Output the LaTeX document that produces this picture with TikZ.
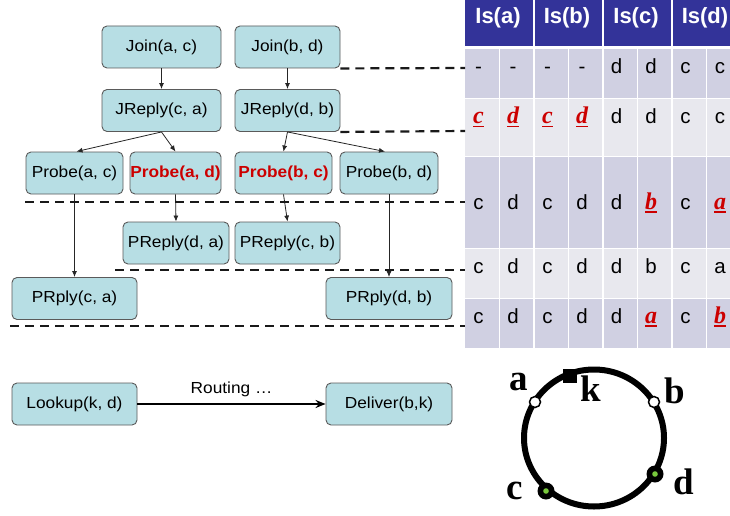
\documentclass[tikz,border=0pt]{standalone}
\usepackage{fontspec}
\setmainfont{Liberation Sans}
\newfontfamily\nodef[FakeStretch=1.08]{Liberation Sans}
\newfontfamily\serf{Liberation Serif}
\usetikzlibrary{arrows.meta}
\definecolor{hdr}{RGB}{51,51,153}
\definecolor{rowd}{RGB}{208,208,226}
\definecolor{rowl}{RGB}{232,232,238}
\definecolor{boxfill}{RGB}{183,222,228}
\definecolor{boxline}{RGB}{90,90,90}
\definecolor{myred}{RGB}{204,0,0}
\definecolor{ringgreen}{RGB}{120,200,60}
\newcommand\redu[1]{{\color{myred}\fontsize{24}{26}\serf\bfseries\itshape\setbox0\hbox{#1}\rlap{\raisebox{-3.5pt}{\rule{\wd0}{1.6pt}}}\box0}}
\newcommand\cellf{\fontsize{20.5}{23}\selectfont}
\tikzset{
  box/.style={draw=boxline, fill=boxfill, rounded corners=5pt, line width=0.9pt,
    minimum height=42pt, inner sep=0pt, font=\nodef\fontsize{16}{19}\selectfont},
  redtxt/.style={text=myred, font=\nodef\fontsize{16}{19}\selectfont\bfseries},
  arr/.style={-{Latex[length=6pt,width=5pt]}, line width=0.8pt, draw=black!85},
  dl/.style={dashed, dash pattern=on 9pt off 6pt, line width=2.2pt, draw=black!90},
  hd/.style={text=white, font=\fontsize{22}{25}\selectfont\bfseries, anchor=center},
  cell/.style={anchor=base, font=\cellf, inner sep=0pt},
  ringlbl/.style={font=\serf\bfseries\fontsize{37}{39}\selectfont, inner sep=0pt}
}
\begin{document}
\begin{tikzpicture}[x=1pt,y=-1pt]
\useasboundingbox (0,0) rectangle (730,516);
\fill[white] (0,0) rectangle (730,516);
% ---------- table ----------
\fill[hdr] (465,0) rectangle (730,46);
\fill[rowd] (465,49) rectangle (730,98);
\fill[rowl] (465,99) rectangle (730,156);
\fill[rowd] (465,157) rectangle (730,248);
\fill[rowl] (465,249) rectangle (730,298);
\fill[rowd] (465,299) rectangle (730,348);
\foreach \x in {534,603,672} \draw[white, line width=1.5pt] (\x,0) -- (\x,46);
\foreach \x in {499.5,534,568.5,603,637.5,672,706.5} \draw[white, line width=1.5pt] (\x,49) -- (\x,348);
\node[hd] (h1) at (498,18) {Is(a)};
\node[hd] (h2) at (567,18) {Is(b)};
\node[hd] (h3) at (636,18) {Is(c)};
\node[hd] (h4) at (705,18) {Is(d)};
% row 1
\foreach \t [count=\i] in {-,-,-,-,d,d,c,c}
  \node[cell] (ra\i) at (465+34.5*\i-21,74) {\t};
% row 2
\foreach \t [count=\i] in {\redu{c},\redu{d},\redu{c},\redu{d},d,d,c,c}
  \node[cell] (rb\i) at (465+34.5*\i-21,124) {\t};
% row 3
\foreach \t [count=\i] in {c,d,c,d,d,\redu{b},c,\redu{a}}
  \node[cell] (rc\i) at (465+34.5*\i-21,209) {\t};
% row 4
\foreach \t [count=\i] in {c,d,c,d,d,b,c,a}
  \node[cell] (rd\i) at (465+34.5*\i-21,273) {\t};
% row 5
\foreach \t [count=\i] in {c,d,c,d,d,\redu{a},c,\redu{b}}
  \node[cell] (re\i) at (465+34.5*\i-21,323) {\t};
% ---------- message nodes ----------
\node[box, minimum width=119pt] (jac) at (161.5,47) {Join(a, c)};
\node[box, minimum width=105pt] (jbd) at (287.5,47) {Join(b, d)};
\node[box, minimum width=119pt] (jrca) at (161.5,110.5) {JReply(c, a)};
\node[box, minimum width=105pt] (jrdb) at (287.5,110.5) {JReply(d, b)};
\node[box, minimum width=97pt] (pac) at (74.5,173) {Probe(a, c)};
\node[box, redtxt, minimum width=91pt] (pad) at (175.5,173) {Probe(a, d)};
\node[box, redtxt, minimum width=97pt] (pbc) at (283.5,173) {Probe(b, c)};
\node[box, minimum width=98pt] (pbd) at (389,173) {Probe(b, d)};
\node[box, minimum width=106pt] (prda) at (176,243) {PReply(d, a)};
\node[box, minimum width=105pt] (prcb) at (287.5,243) {PReply(c, b)};
\node[box, minimum width=125pt] (prca) at (74.5,298.5) {PRply(c, a)};
\node[box, minimum width=126pt] (prdb) at (389,298.5) {PRply(d, b)};
\node[box, minimum width=125pt] (look) at (74.5,404) {Lookup(k, d)};
\node[box, minimum width=126pt] (deliv) at (389,404) {Deliver(b,k)};
% arrows
\draw[arr] (jac) -- (jrca);
\draw[arr] (jbd) -- (jrdb);
\draw[arr] (jrca.south) -- ([xshift=2pt]pac.north);
\draw[arr] (jrca.south) -- (pad.north);
\draw[arr] (jrdb.south) -- (pbc.north);
\draw[arr] (jrdb.south) -- ([xshift=-4pt]pbd.north);
\draw[arr] (pac.south) -- (prca.north);
\draw[arr] (pad.south) -- (prda.north);
\draw[arr] (pbc.south) -- (prcb.north);
\draw[arr] (pbd.south) -- (prdb.north);
\draw[-{Stealth[length=10pt,width=8pt]}, line width=2.2pt] (look) -- node[above=3pt, font=\nodef\fontsize{16}{19}\selectfont] (rt) {Routing \dots} (deliv);
% dashed separators
\coordinate (d1) at (465,68);
\coordinate (d2) at (465,131);
\coordinate (d3a) at (25,202);  \coordinate (d3b) at (465,202);
\coordinate (d4a) at (115,270); \coordinate (d4b) at (465,270);
\coordinate (d5a) at (10,326);  \coordinate (d5b) at (465,326);
\draw[dl] (jbd.south east) -- (d1);
\draw[dl] (jrdb.south east) -- (d2);
\draw[dl] (d3a) -- (d3b);
\draw[dl] (d4a) -- (d4b);
\draw[dl] (d5a) -- (d5b);
% ---------- ring ----------
\draw[line width=6pt] (594,438) ellipse [x radius=70, y radius=68.5];
\fill (563,369) rectangle (577,383);
\node[circle, draw=black, line width=1.5pt, fill=white, minimum size=11pt, inner sep=0pt] (na) at (535,402) {};
\node[circle, draw=black, line width=1.5pt, fill=white, minimum size=11pt, inner sep=0pt] (nb) at (654,402) {};
\node[circle, fill=black, minimum size=17pt, inner sep=0pt] (nc) at (546,491) {};
\node[circle, fill=black, minimum size=17pt, inner sep=0pt] (nd) at (655,474) {};
\fill[ringgreen] (nc) circle (2.8pt);
\fill[ringgreen] (nd) circle (2.8pt);
\node[ringlbl] (la) at (519,382) {a};
\node[ringlbl] (lk) at (591,389) {k};
\node[ringlbl] (lb) at (675,391) {b};
\node[ringlbl] (lc) at (515,491) {c};
\node[ringlbl] (ld) at (684,482) {d};
\end{tikzpicture}
\end{document}
